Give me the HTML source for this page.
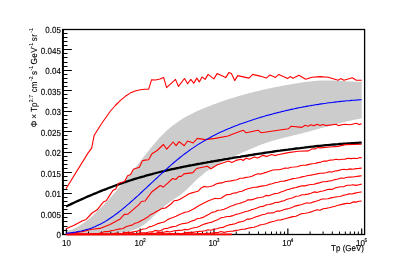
<!DOCTYPE html>
<html>
<head>
<meta charset="utf-8">
<title>Flux plot</title>
<style>
html, body { margin: 0; padding: 0; background: #ffffff; }
body { width: 415px; height: 264px; overflow: hidden; font-family: "Liberation Sans", sans-serif; }
svg { display: block; }
svg { will-change: transform; }
text { font-family: "Liberation Sans", sans-serif; font-size: 8px; fill: #000; stroke: #000; stroke-width: 0.12px; text-rendering: geometricPrecision; }
</style>
</head>
<body>
<svg width="415" height="264" viewBox="0 0 415 264">
<rect x="0" y="0" width="415" height="264" fill="#ffffff"/>
<!-- uncertainty band -->
<polygon points="66.3,231.3 67.8,230.9 69.3,230.5 70.8,230.0 72.3,229.4 73.8,228.8 75.3,228.1 76.8,227.3 78.3,226.5 79.8,225.6 81.3,224.6 82.8,223.6 84.3,222.6 85.8,221.4 87.3,220.3 88.8,219.0 90.3,217.8 91.8,216.5 93.3,215.1 94.8,213.7 96.3,212.3 97.8,210.8 99.3,209.3 100.8,207.8 102.3,206.2 103.8,204.7 105.3,203.0 106.8,201.4 108.3,199.8 109.8,198.1 111.3,196.4 112.8,194.7 114.3,193.0 115.8,191.3 117.3,189.5 118.8,187.8 120.3,186.0 121.8,184.3 123.3,182.5 124.8,180.7 126.3,178.8 127.8,177.0 129.3,175.2 130.8,173.3 132.3,171.4 133.8,169.5 135.3,167.6 136.8,165.7 138.3,163.8 139.8,161.9 141.3,160.0 142.8,158.1 144.3,156.1 145.8,154.2 147.3,152.3 148.8,150.5 150.3,148.6 151.8,146.8 153.3,145.0 154.8,143.2 156.3,141.5 157.8,139.8 159.3,138.1 160.8,136.5 162.3,135.0 163.8,133.5 165.3,132.0 166.8,130.6 168.3,129.3 169.8,128.0 171.3,126.8 172.8,125.6 174.3,124.4 175.8,123.3 177.3,122.2 178.8,121.2 180.3,120.2 181.8,119.3 183.3,118.3 184.8,117.5 186.3,116.6 187.8,115.8 189.3,115.0 190.8,114.2 192.3,113.4 193.8,112.7 195.3,112.0 196.8,111.3 198.3,110.6 199.8,110.0 201.3,109.3 202.8,108.7 204.3,108.1 205.8,107.5 207.3,106.9 208.8,106.3 210.3,105.7 211.8,105.1 213.3,104.5 214.8,104.0 216.3,103.4 217.8,102.9 219.3,102.3 220.8,101.8 222.3,101.3 223.8,100.8 225.3,100.3 226.8,99.8 228.3,99.3 229.8,98.8 231.3,98.3 232.8,97.9 234.3,97.4 235.8,96.9 237.3,96.5 238.8,96.0 240.3,95.6 241.8,95.2 243.3,94.8 244.8,94.3 246.3,93.9 247.8,93.5 249.3,93.1 250.8,92.8 252.3,92.4 253.8,92.0 255.3,91.6 256.8,91.3 258.3,90.9 259.8,90.5 261.3,90.2 262.8,89.8 264.3,89.5 265.8,89.2 267.3,88.8 268.8,88.5 270.3,88.2 271.8,87.9 273.3,87.6 274.8,87.3 276.3,87.0 277.8,86.7 279.3,86.4 280.8,86.1 282.3,85.8 283.8,85.5 285.3,85.3 286.8,85.0 288.3,84.7 289.8,84.5 291.3,84.2 292.8,83.9 294.3,83.7 295.8,83.4 297.3,83.2 298.8,83.0 300.3,82.7 301.8,82.5 303.3,82.3 304.8,82.1 306.3,81.9 307.8,81.7 309.3,81.5 310.8,81.4 312.3,81.2 313.8,81.1 315.3,81.0 316.8,80.8 318.3,80.7 319.8,80.6 321.3,80.6 322.8,80.5 324.3,80.5 325.8,80.4 327.3,80.4 328.8,80.4 330.3,80.4 331.8,80.5 333.3,80.5 334.8,80.6 336.3,80.7 337.8,80.7 339.3,80.8 340.8,80.9 342.3,81.0 343.8,81.1 345.3,81.2 346.8,81.3 348.3,81.4 349.8,81.5 351.3,81.6 352.8,81.6 354.3,81.7 355.8,81.7 357.3,81.7 358.8,81.7 360.3,81.7 361.7,81.6 361.7,118.3 360.3,118.6 358.8,118.9 357.3,119.2 355.8,119.5 354.3,119.8 352.8,120.1 351.3,120.4 349.8,120.8 348.3,121.1 346.8,121.5 345.3,121.8 343.8,122.2 342.3,122.6 340.8,122.9 339.3,123.3 337.8,123.7 336.3,124.1 334.8,124.5 333.3,124.9 331.8,125.3 330.3,125.7 328.8,126.1 327.3,126.5 325.8,126.9 324.3,127.3 322.8,127.7 321.3,128.1 319.8,128.5 318.3,128.9 316.8,129.3 315.3,129.7 313.8,130.2 312.3,130.6 310.8,131.0 309.3,131.4 307.8,131.8 306.3,132.2 304.8,132.6 303.3,133.0 301.8,133.4 300.3,133.7 298.8,134.1 297.3,134.5 295.8,134.9 294.3,135.2 292.8,135.6 291.3,136.0 289.8,136.3 288.3,136.7 286.8,137.1 285.3,137.4 283.8,137.8 282.3,138.2 280.8,138.5 279.3,138.9 277.8,139.3 276.3,139.7 274.8,140.2 273.3,140.6 271.8,141.0 270.3,141.5 268.8,142.0 267.3,142.5 265.8,143.0 264.3,143.5 262.8,144.1 261.3,144.6 259.8,145.2 258.3,145.8 256.8,146.4 255.3,147.0 253.8,147.7 252.3,148.3 250.8,148.9 249.3,149.6 247.8,150.2 246.3,150.9 244.8,151.5 243.3,152.1 241.8,152.8 240.3,153.4 238.8,154.1 237.3,154.7 235.8,155.4 234.3,156.1 232.8,156.7 231.3,157.4 229.8,158.1 228.3,158.8 226.8,159.6 225.3,160.3 223.8,161.1 222.3,161.9 220.8,162.7 219.3,163.5 217.8,164.3 216.3,165.2 214.8,166.1 213.3,167.0 211.8,168.0 210.3,169.0 208.8,170.0 207.3,171.0 205.8,172.1 204.3,173.3 202.8,174.5 201.3,175.7 199.8,176.9 198.3,178.3 196.8,179.6 195.3,181.0 193.8,182.5 192.3,184.0 190.8,185.5 189.3,187.0 187.8,188.5 186.3,189.9 184.8,191.2 183.3,192.5 181.8,193.7 180.3,194.8 178.8,195.9 177.3,197.0 175.8,198.0 174.3,199.0 172.8,200.0 171.3,201.0 169.8,202.1 168.3,203.2 166.8,204.3 165.3,205.5 163.8,206.7 162.3,208.1 160.8,209.4 159.3,210.8 157.8,212.3 156.3,213.7 154.8,215.2 153.3,216.6 151.8,218.0 150.3,219.4 148.8,220.8 147.3,222.0 145.8,223.2 144.3,224.4 142.8,225.4 141.3,226.3 139.8,227.2 138.3,228.0 136.8,228.7 135.3,229.3 133.8,229.8 132.3,230.3 130.8,230.7 129.3,231.1 127.8,231.5 126.3,231.8 124.8,232.0 123.3,232.3 121.8,232.5 120.3,232.7 118.8,232.9 117.3,233.0 115.8,233.1 114.3,233.2 112.8,233.3 111.3,233.4 109.8,233.4 108.3,233.4 106.8,233.5 105.3,233.5 103.8,233.5 102.3,233.4 100.8,233.4 99.3,233.4 97.8,233.4 96.3,233.3 94.8,233.3 93.3,233.3 91.8,233.2 90.3,233.2 88.8,233.2 87.3,233.2 85.8,233.1 84.3,233.1 82.8,233.1 81.3,233.2 79.8,233.2 78.3,233.2 76.8,233.3 75.3,233.3 73.8,233.4 72.3,233.5 70.8,233.7 69.3,233.8 67.8,234.0 66.3,234.2" fill="#cccccc" stroke="none"/>
<!-- frame and ticks -->
<rect x="62.6" y="29.5" width="302.0" height="205.0" fill="none" stroke="#000" stroke-width="1.3"/>
<line x1="63.1" y1="29.5" x2="63.1" y2="234.5" stroke="#000" stroke-width="1.6"/>
<g stroke="#000" stroke-width="1.0">
<line x1="62.6" y1="234.50" x2="71.9" y2="234.50"/>
<line x1="62.6" y1="230.50" x2="67.5" y2="230.50"/>
<line x1="62.6" y1="226.50" x2="67.5" y2="226.50"/>
<line x1="62.6" y1="221.50" x2="67.5" y2="221.50"/>
<line x1="62.6" y1="217.50" x2="67.5" y2="217.50"/>
<line x1="62.6" y1="213.50" x2="71.9" y2="213.50"/>
<line x1="62.6" y1="209.50" x2="67.5" y2="209.50"/>
<line x1="62.6" y1="205.50" x2="67.5" y2="205.50"/>
<line x1="62.6" y1="201.50" x2="67.5" y2="201.50"/>
<line x1="62.6" y1="197.50" x2="67.5" y2="197.50"/>
<line x1="62.6" y1="193.50" x2="71.9" y2="193.50"/>
<line x1="62.6" y1="189.50" x2="67.5" y2="189.50"/>
<line x1="62.6" y1="185.50" x2="67.5" y2="185.50"/>
<line x1="62.6" y1="180.50" x2="67.5" y2="180.50"/>
<line x1="62.6" y1="176.50" x2="67.5" y2="176.50"/>
<line x1="62.6" y1="172.50" x2="71.9" y2="172.50"/>
<line x1="62.6" y1="168.50" x2="67.5" y2="168.50"/>
<line x1="62.6" y1="164.50" x2="67.5" y2="164.50"/>
<line x1="62.6" y1="160.50" x2="67.5" y2="160.50"/>
<line x1="62.6" y1="156.50" x2="67.5" y2="156.50"/>
<line x1="62.6" y1="152.50" x2="71.9" y2="152.50"/>
<line x1="62.6" y1="148.50" x2="67.5" y2="148.50"/>
<line x1="62.6" y1="144.50" x2="67.5" y2="144.50"/>
<line x1="62.6" y1="139.50" x2="67.5" y2="139.50"/>
<line x1="62.6" y1="135.50" x2="67.5" y2="135.50"/>
<line x1="62.6" y1="131.50" x2="71.9" y2="131.50"/>
<line x1="62.6" y1="127.50" x2="67.5" y2="127.50"/>
<line x1="62.6" y1="123.50" x2="67.5" y2="123.50"/>
<line x1="62.6" y1="119.50" x2="67.5" y2="119.50"/>
<line x1="62.6" y1="115.50" x2="67.5" y2="115.50"/>
<line x1="62.6" y1="111.50" x2="71.9" y2="111.50"/>
<line x1="62.6" y1="107.50" x2="67.5" y2="107.50"/>
<line x1="62.6" y1="103.50" x2="67.5" y2="103.50"/>
<line x1="62.6" y1="98.50" x2="67.5" y2="98.50"/>
<line x1="62.6" y1="94.50" x2="67.5" y2="94.50"/>
<line x1="62.6" y1="90.50" x2="71.9" y2="90.50"/>
<line x1="62.6" y1="86.50" x2="67.5" y2="86.50"/>
<line x1="62.6" y1="82.50" x2="67.5" y2="82.50"/>
<line x1="62.6" y1="78.50" x2="67.5" y2="78.50"/>
<line x1="62.6" y1="74.50" x2="67.5" y2="74.50"/>
<line x1="62.6" y1="70.50" x2="71.9" y2="70.50"/>
<line x1="62.6" y1="66.50" x2="67.5" y2="66.50"/>
<line x1="62.6" y1="62.50" x2="67.5" y2="62.50"/>
<line x1="62.6" y1="57.50" x2="67.5" y2="57.50"/>
<line x1="62.6" y1="53.50" x2="67.5" y2="53.50"/>
<line x1="62.6" y1="49.50" x2="71.9" y2="49.50"/>
<line x1="62.6" y1="45.50" x2="67.5" y2="45.50"/>
<line x1="62.6" y1="41.50" x2="67.5" y2="41.50"/>
<line x1="62.6" y1="37.50" x2="67.5" y2="37.50"/>
<line x1="62.6" y1="33.50" x2="67.5" y2="33.50"/>
<line x1="62.6" y1="29.50" x2="71.9" y2="29.50"/>
<line x1="88.53" y1="234.5" x2="88.53" y2="231.5"/>
<line x1="101.54" y1="234.5" x2="101.54" y2="231.5"/>
<line x1="110.76" y1="234.5" x2="110.76" y2="231.5"/>
<line x1="117.92" y1="234.5" x2="117.92" y2="231.5"/>
<line x1="123.77" y1="234.5" x2="123.77" y2="231.5"/>
<line x1="128.71" y1="234.5" x2="128.71" y2="231.5"/>
<line x1="132.99" y1="234.5" x2="132.99" y2="231.5"/>
<line x1="136.77" y1="234.5" x2="136.77" y2="231.5"/>
<line x1="162.38" y1="234.5" x2="162.38" y2="231.5"/>
<line x1="175.39" y1="234.5" x2="175.39" y2="231.5"/>
<line x1="184.61" y1="234.5" x2="184.61" y2="231.5"/>
<line x1="191.77" y1="234.5" x2="191.77" y2="231.5"/>
<line x1="197.62" y1="234.5" x2="197.62" y2="231.5"/>
<line x1="202.56" y1="234.5" x2="202.56" y2="231.5"/>
<line x1="206.84" y1="234.5" x2="206.84" y2="231.5"/>
<line x1="210.62" y1="234.5" x2="210.62" y2="231.5"/>
<line x1="236.23" y1="234.5" x2="236.23" y2="231.5"/>
<line x1="249.24" y1="234.5" x2="249.24" y2="231.5"/>
<line x1="258.46" y1="234.5" x2="258.46" y2="231.5"/>
<line x1="265.62" y1="234.5" x2="265.62" y2="231.5"/>
<line x1="271.47" y1="234.5" x2="271.47" y2="231.5"/>
<line x1="276.41" y1="234.5" x2="276.41" y2="231.5"/>
<line x1="280.69" y1="234.5" x2="280.69" y2="231.5"/>
<line x1="284.47" y1="234.5" x2="284.47" y2="231.5"/>
<line x1="310.08" y1="234.5" x2="310.08" y2="231.5"/>
<line x1="323.09" y1="234.5" x2="323.09" y2="231.5"/>
<line x1="332.31" y1="234.5" x2="332.31" y2="231.5"/>
<line x1="339.47" y1="234.5" x2="339.47" y2="231.5"/>
<line x1="345.32" y1="234.5" x2="345.32" y2="231.5"/>
<line x1="350.26" y1="234.5" x2="350.26" y2="231.5"/>
<line x1="354.54" y1="234.5" x2="354.54" y2="231.5"/>
<line x1="358.32" y1="234.5" x2="358.32" y2="231.5"/>
<line x1="62.92" y1="234.5" x2="62.92" y2="231.5"/>
</g>
<g stroke="#000" stroke-width="1.2">
<line x1="66.30" y1="234.5" x2="66.30" y2="228.5"/>
<line x1="140.15" y1="234.5" x2="140.15" y2="228.5"/>
<line x1="214.00" y1="234.5" x2="214.00" y2="228.5"/>
<line x1="287.85" y1="234.5" x2="287.85" y2="228.5"/>
<line x1="361.70" y1="234.5" x2="361.70" y2="228.5"/>
</g>
<!-- black fit curve -->
<polyline points="66.0,206.5 68.0,205.5 70.0,204.6 72.0,203.6 74.0,202.7 76.0,201.8 78.0,200.9 80.0,200.0 82.0,199.1 84.0,198.2 86.0,197.3 88.0,196.4 90.0,195.6 92.0,194.7 94.0,193.9 96.0,193.1 98.0,192.2 100.0,191.4 102.0,190.6 104.0,189.8 106.0,189.1 108.0,188.3 110.0,187.5 112.0,186.8 114.0,186.0 116.0,185.3 118.0,184.6 120.0,183.9 122.0,183.2 124.0,182.5 126.0,181.8 128.0,181.2 130.0,180.5 132.0,179.9 134.0,179.2 136.0,178.6 138.0,178.0 140.0,177.4 142.0,176.8 144.0,176.3 146.0,175.7 148.0,175.1 150.0,174.6 152.0,174.1 154.0,173.5 156.0,173.0 158.0,172.5 160.0,172.0 162.0,171.5 164.0,171.1 166.0,170.6 168.0,170.1 170.0,169.7 172.0,169.2 174.0,168.8 176.0,168.4 178.0,168.0 180.0,167.5 182.0,167.1 184.0,166.7 186.0,166.3 188.0,165.9 190.0,165.5 192.0,165.2 194.0,164.8 196.0,164.4 198.0,164.0 200.0,163.7 202.0,163.3 204.0,162.9 206.0,162.6 208.0,162.2 210.0,161.9 212.0,161.5 214.0,161.2 216.0,160.8 218.0,160.5 220.0,160.1 222.0,159.8 224.0,159.4 226.0,159.1 228.0,158.8 230.0,158.4 232.0,158.1 234.0,157.7 236.0,157.4 238.0,157.1 240.0,156.8 242.0,156.4 244.0,156.1 246.0,155.8 248.0,155.5 250.0,155.1 252.0,154.8 254.0,154.5 256.0,154.2 258.0,153.9 260.0,153.6 262.0,153.3 264.0,153.0 266.0,152.7 268.0,152.4 270.0,152.1 272.0,151.8 274.0,151.5 276.0,151.2 278.0,150.9 280.0,150.7 282.0,150.4 284.0,150.1 286.0,149.8 288.0,149.6 290.0,149.3 292.0,149.1 294.0,148.8 296.0,148.5 298.0,148.3 300.0,148.1 302.0,147.8 304.0,147.6 306.0,147.3 308.0,147.1 310.0,146.9 312.0,146.7 314.0,146.5 316.0,146.2 318.0,146.0 320.0,145.8 322.0,145.6 324.0,145.4 326.0,145.2 328.0,145.1 330.0,144.9 332.0,144.7 334.0,144.5 336.0,144.3 338.0,144.2 340.0,144.0 342.0,143.9 344.0,143.7 346.0,143.6 348.0,143.4 350.0,143.3 352.0,143.2 354.0,143.1 356.0,142.9 358.0,142.8 360.0,142.7 361.7,142.6" fill="none" stroke="#000000" stroke-width="2.3" stroke-linejoin="round"/>
<!-- red histogram curves -->
<g fill="none" stroke="#ff0000" stroke-width="1.1" stroke-linejoin="round">
<polyline points="66.0,188.8 88.1,152.9 91.7,148.2 94.2,135.2 102.0,123.0 110.1,111.5 115.3,105.5 120.5,100.3 125.3,96.3 130.2,93.1 135.2,91.0 140.3,89.7 144.4,89.2 148.7,89.1 151.6,79.7 155.6,80.0 160.0,79.0 163.6,77.4 166.6,87.6 175.5,79.4 178.4,86.4 184.5,78.5 187.6,83.8 190.8,79.4 193.8,83.1 196.8,78.1 199.3,81.9 202.1,76.9 205.1,79.4 208.1,74.4 213.9,78.9 217.1,73.6 225.7,77.6 228.9,72.6 231.4,73.6 234.7,80.6 237.7,75.6 249.0,78.1 252.7,74.4 260.0,76.1 266.3,78.1 270.0,74.9 275.5,77.4 278.8,74.4 287.6,78.6 290.0,76.6 293.0,78.2 299.0,75.2 305.7,79.2 312.1,77.2 320.1,76.6 328.2,77.2 338.2,80.2 340.6,78.6 343.9,80.2 352.3,77.8 356.3,80.2 361.7,80.2"/>
<polyline points="66.0,228.8 74.1,225.3 82.1,221.0 86.1,219.4 92.1,213.0 97.2,209.8 103.2,202.1 106.2,200.7 108.7,196.9 112.8,190.6 115.8,188.9 118.4,183.6 124.5,181.6 127.6,175.7 130.6,174.5 133.3,169.2 139.4,167.2 142.4,160.7 145.0,160.1 148.6,159.7 152.0,153.7 157.1,150.5 163.5,144.5 166.7,149.1 173.1,142.0 176.1,145.7 179.2,141.6 184.2,145.7 187.6,141.0 193.2,143.0 197.3,138.4 205.3,139.6 215.3,138.4 228.0,136.0 233.0,133.9 243.1,130.2 246.1,132.8 258.1,130.2 261.2,132.8 288.3,128.8 291.3,126.2 302.0,127.4 305.0,125.2 308.0,126.2 311.0,124.8 314.0,125.8 317.0,124.2 320.0,125.4 323.0,124.4 326.0,125.6 336.2,124.2 338.2,125.6 344.3,124.2 350.3,124.8 356.3,123.2 359.0,124.6 361.7,123.8"/>
<polyline points="66.0,233.8 82.1,231.6 92.1,229.2 100.0,228.4 110.0,224.5 120.2,218.9 124.3,214.4 127.9,214.1 132.6,210.2 136.0,207.2 138.4,205.1 141.4,201.5 145.0,201.0 152.0,191.7 160.2,185.5 163.2,187.1 168.0,182.9 172.6,178.5 175.7,179.5 178.8,176.4 181.3,176.4 184.0,173.9 193.0,172.6 194.0,171.3 196.6,168.5 207.3,166.2 210.9,168.8 217.4,164.7 228.7,161.1 231.8,162.6 236.0,160.4 241.1,159.3 243.2,160.5 246.2,158.0 249.3,159.3 254.4,157.0 257.5,158.0 262.6,155.4 266.6,156.4 271.8,154.4 274.8,155.6 278.0,154.8 288.2,152.6 298.4,151.3 308.6,150.9 311.7,149.0 315.5,148.9 317.8,147.5 320.0,147.9 330.2,147.0 338.0,146.4 345.5,144.6 361.7,144.2"/>
<polyline points="66.0,234.3 90.0,234.2 93.0,233.5 96.0,233.5 99.0,233.2 102.0,232.6 105.0,231.6 108.0,231.6 111.0,230.8 114.0,230.2 117.0,229.5 120.0,228.9 123.0,228.5 126.0,226.7 129.0,225.7 132.0,225.1 135.0,223.2 138.0,222.5 141.0,220.7 144.0,219.2 147.0,217.6 150.0,215.1 153.0,213.6 156.0,211.7 159.0,210.3 162.0,208.4 165.0,208.2 168.0,206.2 171.0,204.0 174.0,200.8 177.0,200.4 180.0,199.2 183.0,197.5 186.0,195.8 189.0,193.8 192.0,192.9 195.0,192.0 198.0,191.3 201.0,188.1 204.0,186.4 207.0,187.0 210.0,186.5 213.0,185.8 216.0,184.0 219.0,183.1 222.0,182.9 225.0,181.8 228.0,181.2 231.0,180.9 234.0,180.2 237.0,179.7 240.0,178.3 243.0,178.3 246.0,177.4 249.0,177.0 252.0,176.3 255.0,174.7 258.0,173.7 261.0,174.1 264.0,172.9 267.0,172.1 270.0,171.0 273.0,170.0 276.0,169.8 279.0,169.7 282.0,169.1 285.0,168.1 288.0,168.2 291.0,167.2 294.0,167.0 297.0,166.7 300.0,165.8 303.0,165.2 306.0,165.1 309.0,164.4 312.0,163.8 315.0,163.5 318.0,162.6 321.0,162.1 324.0,161.1 327.0,161.1 330.0,160.1 333.0,160.0 336.0,159.2 339.0,159.8 342.0,159.3 345.0,159.1 348.0,158.3 351.0,158.6 354.0,158.2 357.0,158.5 360.0,157.5 361.7,157.9"/>
<polyline points="66.0,234.3 110.0,234.2 113.0,233.7 116.0,233.0 119.0,233.5 122.0,233.2 125.0,232.5 128.0,232.3 131.0,232.4 134.0,231.7 137.0,231.1 140.0,230.4 143.0,229.0 146.0,228.7 149.0,226.9 152.0,226.3 155.0,225.1 158.0,223.6 161.0,222.8 164.0,222.0 167.0,220.1 170.0,218.4 173.0,217.4 176.0,216.3 179.0,214.7 182.0,213.5 185.0,212.2 188.0,211.7 191.0,210.3 194.0,208.8 197.0,206.7 200.0,205.1 203.0,203.4 206.0,202.1 209.0,200.6 212.0,199.5 215.0,198.2 218.0,198.7 221.0,198.3 224.0,196.3 227.0,194.6 230.0,194.5 233.0,193.3 236.0,192.9 239.0,191.8 242.0,191.2 245.0,189.8 248.0,188.7 251.0,188.0 254.0,187.3 257.0,187.1 260.0,186.4 263.0,185.9 266.0,185.5 269.0,184.4 272.0,183.7 275.0,182.8 278.0,182.2 281.0,181.3 284.0,181.1 287.0,180.4 290.0,179.5 293.0,178.6 296.0,178.3 299.0,177.8 302.0,176.9 305.0,176.3 308.0,175.5 311.0,175.1 314.0,174.5 317.0,173.9 320.0,173.3 323.0,173.1 326.0,172.8 329.0,171.7 332.0,172.0 335.0,171.0 338.0,170.6 341.0,169.7 344.0,169.2 347.0,169.8 350.0,168.9 353.0,169.2 356.0,168.6 359.0,168.4 361.7,168.1"/>
<polyline points="66.0,234.3 128.0,234.2 131.0,234.2 134.0,234.4 137.0,233.8 140.0,232.9 143.0,232.7 146.0,232.7 149.0,232.0 152.0,231.9 155.0,230.4 158.0,231.1 161.0,230.5 164.0,228.8 167.0,228.4 170.0,227.4 173.0,226.6 176.0,226.2 179.0,224.8 182.0,223.8 185.0,223.4 188.0,222.7 191.0,221.2 194.0,220.4 197.0,218.7 200.0,218.3 203.0,217.4 206.0,215.7 209.0,214.2 212.0,212.4 215.0,211.8 218.0,210.2 221.0,210.0 224.0,209.3 227.0,208.1 230.0,206.6 233.0,205.6 236.0,204.2 239.0,203.5 242.0,202.6 245.0,201.6 248.0,199.8 251.0,199.9 254.0,199.1 257.0,197.9 260.0,197.5 263.0,197.0 266.0,195.4 269.0,195.7 272.0,194.6 275.0,193.6 278.0,193.2 281.0,192.0 284.0,191.0 287.0,189.8 290.0,189.1 293.0,188.1 296.0,187.5 299.0,186.6 302.0,185.8 305.0,185.9 308.0,185.0 311.0,184.5 314.0,184.3 317.0,183.4 320.0,182.6 323.0,181.7 326.0,181.6 329.0,181.0 332.0,180.6 335.0,179.6 338.0,179.0 341.0,178.0 344.0,178.3 347.0,177.2 350.0,177.1 353.0,177.0 356.0,176.5 359.0,176.1 361.7,175.8"/>
<polyline points="66.0,234.3 140.0,234.2 143.0,234.4 146.0,233.4 149.0,233.8 152.0,233.0 155.0,233.5 158.0,232.4 161.0,232.4 164.0,232.2 167.0,231.4 170.0,232.0 173.0,231.0 176.0,230.6 179.0,230.4 182.0,230.3 185.0,229.4 188.0,229.7 191.0,228.5 194.0,227.8 197.0,227.2 200.0,225.9 203.0,224.5 206.0,223.6 209.0,222.8 212.0,222.1 215.0,220.7 218.0,219.6 221.0,217.7 224.0,217.3 227.0,216.5 230.0,216.4 233.0,215.6 236.0,214.4 239.0,213.8 242.0,212.8 245.0,211.7 248.0,211.0 251.0,209.9 254.0,209.0 257.0,208.0 260.0,206.8 263.0,206.4 266.0,204.9 269.0,204.5 272.0,203.9 275.0,202.5 278.0,202.4 281.0,201.4 284.0,200.7 287.0,199.2 290.0,198.5 293.0,197.7 296.0,196.2 299.0,196.0 302.0,194.8 305.0,194.6 308.0,194.1 311.0,193.3 314.0,191.9 317.0,192.4 320.0,191.4 323.0,191.0 326.0,189.9 329.0,189.3 332.0,189.4 335.0,188.0 338.0,187.3 341.0,186.7 344.0,186.6 347.0,185.3 350.0,185.3 353.0,184.7 356.0,185.4 359.0,184.7 361.7,184.1"/>
<polyline points="66.0,234.3 160.0,234.2 163.0,234.3 166.0,234.2 169.0,233.7 172.0,233.8 175.0,233.6 178.0,233.4 181.0,233.9 184.0,232.9 187.0,232.6 190.0,232.3 193.0,232.4 196.0,231.7 199.0,231.4 202.0,231.3 205.0,230.8 208.0,229.8 211.0,230.2 214.0,229.2 217.0,228.7 220.0,227.8 223.0,227.4 226.0,225.9 229.0,224.9 232.0,224.4 235.0,223.7 238.0,222.4 241.0,221.7 244.0,221.0 247.0,219.1 250.0,219.1 253.0,218.1 256.0,216.7 259.0,215.9 262.0,214.8 265.0,214.3 268.0,213.1 271.0,212.9 274.0,212.6 277.0,211.1 280.0,211.1 283.0,210.1 286.0,209.1 289.0,208.5 292.0,207.4 295.0,206.1 298.0,205.4 301.0,204.8 304.0,203.8 307.0,202.8 310.0,203.2 313.0,202.1 316.0,201.3 319.0,200.2 322.0,199.0 325.0,199.0 328.0,198.8 331.0,197.9 334.0,197.2 337.0,196.7 340.0,196.5 343.0,195.4 346.0,194.7 349.0,193.9 352.0,194.0 355.0,193.1 358.0,192.5 361.0,192.0 361.7,191.9"/>
<polyline points="66.0,234.3 185.0,234.2 188.0,234.1 191.0,234.4 194.0,234.4 197.0,233.7 200.0,233.5 203.0,233.7 206.0,233.2 209.0,233.2 212.0,233.1 215.0,232.6 218.0,232.6 221.0,231.5 224.0,232.4 227.0,231.8 230.0,231.2 233.0,231.1 236.0,230.4 239.0,230.0 242.0,229.2 245.0,229.1 248.0,228.2 251.0,227.6 254.0,227.3 257.0,226.2 260.0,224.9 263.0,224.5 266.0,223.8 269.0,222.6 272.0,221.8 275.0,221.0 278.0,220.0 281.0,219.9 284.0,219.0 287.0,218.2 290.0,217.4 293.0,216.6 296.0,216.2 299.0,214.8 302.0,213.6 305.0,213.3 308.0,212.7 311.0,211.9 314.0,210.8 317.0,209.8 320.0,210.2 323.0,208.7 326.0,208.4 329.0,207.8 332.0,207.0 335.0,206.3 338.0,205.3 341.0,204.6 344.0,203.9 347.0,203.4 350.0,203.5 353.0,201.9 356.0,202.1 359.0,201.3 361.7,201.0"/>
<polyline points="66.3,234.5 150,234.4" stroke-width="1.9"/>
<polyline points="150,234.3 232,234.4" stroke-width="1.9"/>
</g>
<!-- blue model curve -->
<polyline points="66.3,233.3 67.8,233.1 69.3,233.0 70.8,232.8 72.3,232.6 73.8,232.4 75.3,232.2 76.8,231.9 78.3,231.6 79.8,231.3 81.3,231.0 82.8,230.6 84.3,230.2 85.8,229.8 87.3,229.4 88.8,228.9 90.3,228.4 91.8,227.9 93.3,227.3 94.8,226.7 96.3,226.0 97.8,225.3 99.3,224.6 100.8,223.9 102.3,223.1 103.8,222.2 105.3,221.4 106.8,220.5 108.3,219.5 109.8,218.5 111.3,217.5 112.8,216.5 114.3,215.4 115.8,214.3 117.3,213.2 118.8,212.0 120.3,210.9 121.8,209.7 123.3,208.4 124.8,207.2 126.3,205.9 127.8,204.6 129.3,203.3 130.8,202.0 132.3,200.7 133.8,199.4 135.3,198.0 136.8,196.6 138.3,195.3 139.8,193.9 141.3,192.5 142.8,191.1 144.3,189.7 145.8,188.3 147.3,186.9 148.8,185.5 150.3,184.1 151.8,182.7 153.3,181.3 154.8,179.9 156.3,178.5 157.8,177.1 159.3,175.7 160.8,174.3 162.3,172.9 163.8,171.5 165.3,170.2 166.8,168.8 168.3,167.5 169.8,166.1 171.3,164.8 172.8,163.5 174.3,162.2 175.8,161.0 177.3,159.7 178.8,158.5 180.3,157.3 181.8,156.1 183.3,154.9 184.8,153.8 186.3,152.7 187.8,151.6 189.3,150.5 190.8,149.4 192.3,148.4 193.8,147.4 195.3,146.4 196.8,145.4 198.3,144.4 199.8,143.5 201.3,142.6 202.8,141.7 204.3,140.8 205.8,139.9 207.3,139.1 208.8,138.2 210.3,137.4 211.8,136.6 213.3,135.8 214.8,135.1 216.3,134.3 217.8,133.6 219.3,132.8 220.8,132.1 222.3,131.4 223.8,130.8 225.3,130.1 226.8,129.4 228.3,128.8 229.8,128.2 231.3,127.5 232.8,126.9 234.3,126.3 235.8,125.7 237.3,125.2 238.8,124.6 240.3,124.0 241.8,123.5 243.3,123.0 244.8,122.4 246.3,121.9 247.8,121.4 249.3,120.9 250.8,120.4 252.3,119.9 253.8,119.4 255.3,119.0 256.8,118.5 258.3,118.0 259.8,117.6 261.3,117.1 262.8,116.7 264.3,116.3 265.8,115.8 267.3,115.4 268.8,115.0 270.3,114.6 271.8,114.2 273.3,113.8 274.8,113.4 276.3,113.0 277.8,112.6 279.3,112.2 280.8,111.9 282.3,111.5 283.8,111.1 285.3,110.8 286.8,110.4 288.3,110.1 289.8,109.7 291.3,109.4 292.8,109.1 294.3,108.8 295.8,108.4 297.3,108.1 298.8,107.8 300.3,107.5 301.8,107.2 303.3,106.9 304.8,106.7 306.3,106.4 307.8,106.1 309.3,105.8 310.8,105.6 312.3,105.3 313.8,105.1 315.3,104.8 316.8,104.6 318.3,104.4 319.8,104.1 321.3,103.9 322.8,103.7 324.3,103.5 325.8,103.3 327.3,103.0 328.8,102.8 330.3,102.7 331.8,102.5 333.3,102.3 334.8,102.1 336.3,101.9 337.8,101.8 339.3,101.6 340.8,101.4 342.3,101.3 343.8,101.1 345.3,101.0 346.8,100.8 348.3,100.7 349.8,100.6 351.3,100.4 352.8,100.3 354.3,100.2 355.8,100.1 357.3,100.0 358.8,99.9 360.3,99.8 361.7,99.7" fill="none" stroke="#0000ff" stroke-width="1.1" stroke-linejoin="round"/>
<!-- labels -->
<g>
<text transform="translate(60.9,238.0) scale(1,1.1)" text-anchor="end">0</text>
<text transform="translate(60.9,217.5) scale(1,1.1)" text-anchor="end">0.005</text>
<text transform="translate(60.9,197.0) scale(1,1.1)" text-anchor="end">0.01</text>
<text transform="translate(60.9,176.5) scale(1,1.1)" text-anchor="end">0.015</text>
<text transform="translate(60.9,156.0) scale(1,1.1)" text-anchor="end">0.02</text>
<text transform="translate(60.9,135.5) scale(1,1.1)" text-anchor="end">0.025</text>
<text transform="translate(60.9,115.0) scale(1,1.1)" text-anchor="end">0.03</text>
<text transform="translate(60.9,94.5) scale(1,1.1)" text-anchor="end">0.035</text>
<text transform="translate(60.9,74.0) scale(1,1.1)" text-anchor="end">0.04</text>
<text transform="translate(60.9,53.5) scale(1,1.1)" text-anchor="end">0.045</text>
<text transform="translate(60.9,33.0) scale(1,1.1)" text-anchor="end">0.05</text>
<text transform="translate(62.0,246.3) scale(1,1.08)">10</text>
<text transform="translate(134.5,246.3) scale(1,1.08)">10<tspan dx="-0.5" dy="-4.1" font-size="4.9">2</tspan></text>
<text transform="translate(208.4,246.3) scale(1,1.08)">10<tspan dx="-0.5" dy="-4.1" font-size="4.9">3</tspan></text>
<text transform="translate(282.2,246.3) scale(1,1.08)">10<tspan dx="-0.5" dy="-4.1" font-size="4.9">4</tspan></text>
<text transform="translate(356.1,246.3) scale(1,1.08)">10<tspan dx="-0.5" dy="-4.1" font-size="4.9">5</tspan></text>
<text transform="translate(331.1,250.8) scale(1,1.08)">Tp (GeV)</text>
<text transform="translate(36.6,127.3) rotate(-90) scale(1,1.1)" font-size="8" stroke-width="0.04"><tspan x="0" y="0">&#934; &#215; Tp</tspan><tspan x="25.1" y="-3.5" font-size="5.2" stroke-width="0.05">2.7</tspan><tspan x="35.1" y="0">cm</tspan><tspan x="46.3" y="-3.5" font-size="5.2" stroke-width="0.05">-2</tspan><tspan x="52.2" y="0">s</tspan><tspan x="56.8" y="-3.5" font-size="5.2" stroke-width="0.05">-1</tspan><tspan x="62.9" y="0" letter-spacing="0.5">GeV</tspan><tspan x="79.9" y="-3.5" font-size="5.2" stroke-width="0.05">-1</tspan><tspan x="86.0" y="0" letter-spacing="0.6">sr</tspan><tspan x="94.5" y="-3.5" font-size="5.2" stroke-width="0.05">-1</tspan></text>
</g>
</svg>
</body>
</html>
